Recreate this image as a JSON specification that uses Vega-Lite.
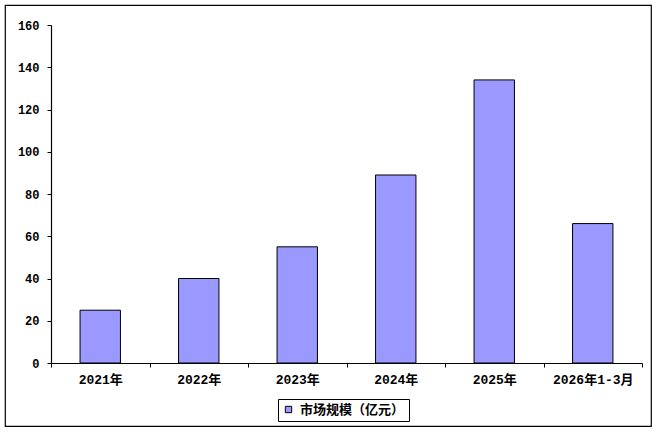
{
  "$schema": "https://vega.github.io/schema/vega-lite/v6.json",
  "autosize": {"type": "none"},
  "padding": {"left": 5, "top": 5, "right": 7, "bottom": 6},
  "width": 646,
  "height": 421,
  "background": "white",
  "config": {
    "view": {"stroke": "black", "strokeWidth": 1.2, "fill": "white"},
    "font": "Noto Sans CJK SC",
    "axis": {
      "domainColor": "black", "domainWidth": 1.2, "tickColor": "black", "tickWidth": 1,
      "labelColor": "black", "labelFont": "Liberation Mono, Noto Sans CJK SC", "labelFontWeight": "bold", "labelFontSize": 12,
      "grid": false, "title": null
    }
  },
  "data": {
    "values": [
      {"period": "2021年", "value": 25},
      {"period": "2022年", "value": 40},
      {"period": "2023年", "value": 55},
      {"period": "2024年", "value": 89},
      {"period": "2025年", "value": 134},
      {"period": "2026年1-3月", "value": 66}
    ]
  },
  "mark": {"type": "bar", "stroke": "black", "strokeWidth": 1, "width": {"band": 0.41}},
  "encoding": {
    "x": {
      "field": "period", "type": "nominal", "sort": null,
      "scale": {"range": [46, 637], "paddingInner": 0, "paddingOuter": 0},
      "axis": {"orient": "bottom", "offset": -63, "labelAngle": 0, "tickBand": "extent", "tickSize": 4, "labelPadding": 6, "labelFontSize": 13}
    },
    "y": {
      "field": "value", "type": "quantitative",
      "scale": {"domain": [0, 160], "range": [358, 20], "nice": false, "zero": true},
      "axis": {"orient": "left", "offset": -46, "values": [0, 20, 40, 60, 80, 100, 120, 140, 160], "tickSize": 4, "labelPadding": 8}
    },
    "color": {
      "datum": "市场规模（亿元）",
      "scale": {"range": ["#9999ff"]},
      "legend": {
        "title": null, "orient": "none", "legendX": 273, "legendY": 394,
        "strokeColor": "black", "padding": 4, "symbolType": "square", "symbolSize": 40,
        "symbolStrokeColor": "black", "symbolStrokeWidth": 1, "symbolFillColor": "#9999ff",
        "labelFont": "Noto Sans CJK SC", "labelFontWeight": "bold", "labelFontSize": 13, "labelColor": "black", "labelOffset": 5
      }
    }
  }
}
